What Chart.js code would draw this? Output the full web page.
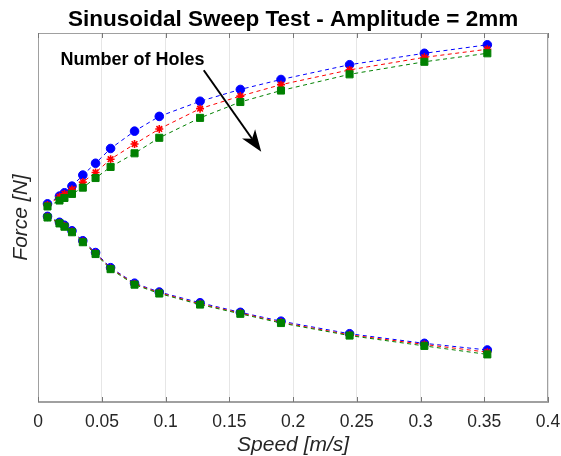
<!DOCTYPE html>
<html>
<head>
<meta charset="utf-8">
<script src="https://cdn.jsdelivr.net/npm/chart.js@4.4.1/dist/chart.umd.min.js"></script>
<style>
html,body{margin:0;padding:0;background:#fff;}
#c{display:block;}
</style>
</head>
<body>
<canvas id="c" width="561" height="456"></canvas>
<script>
// ---- data ----
const speed = [0.0073, 0.0167, 0.0206, 0.0265, 0.035, 0.045, 0.0568, 0.0756, 0.095, 0.127, 0.1586, 0.1905, 0.2443, 0.303, 0.3524];
const blueUpper  = [53.7, 55.8, 56.7, 58.5, 61.5, 64.7, 68.7, 73.4, 77.4, 81.5, 84.7, 87.4, 91.4, 94.5, 96.8];
const redUpper   = [53.4, 55.6, 56.4, 57.6, 59.6, 62.2, 65.8, 69.9, 74.0, 79.5, 82.9, 86.0, 90.0, 93.4, 95.6];
const greenUpper = [53.0, 54.6, 55.3, 56.4, 58.1, 60.7, 63.7, 67.4, 71.6, 77.0, 81.3, 84.4, 88.8, 92.2, 94.5];
const blueLower  = [50.3, 48.7, 47.9, 46.4, 43.7, 40.5, 36.4, 32.2, 29.8, 26.9, 24.3, 21.9, 18.5, 15.9, 14.1];
const redLower   = [50.2, 48.5, 47.7, 46.2, 43.5, 40.3, 36.2, 32.0, 29.6, 26.6, 24.1, 21.6, 18.2, 15.6, 13.5];
const greenLower = [50.0, 48.4, 47.5, 46.0, 43.3, 40.1, 36.0, 31.8, 29.4, 26.4, 23.9, 21.4, 18.0, 15.2, 12.9];
const xTickValues = [0, 0.05, 0.1, 0.15, 0.2, 0.25, 0.3, 0.35, 0.4];
const xTickLabels = ['0', '0.05', '0.1', '0.15', '0.2', '0.25', '0.3', '0.35', '0.4'];
const titleText = 'Sinusoidal Sweep Test - Amplitude = 2mm';
const xTitle = 'Speed [m/s]';
const yTitle = 'Force [N]';
const annoText = 'Number of Holes';
const annoTextPos = [0.074, 92.6];
const arrowFrom = [0.1299, 89.9];
const arrowTo = [0.175, 67.8];

function pts(ys){ return speed.map((x,i)=>({x:x, y:ys[i]})); }

function ds(label, ys, color, style, radius, order){
  return {
    label: label, data: pts(ys), showLine: true,
    borderColor: color, backgroundColor: color,
    borderWidth: 1, borderDash: [4,3.5],
    pointStyle: style, pointRadius: radius, pointHoverRadius: radius,
    pointBackgroundColor: color, pointBorderColor: color,
    pointBorderWidth: style === 'star' ? 1.6 : 1,
    order: order
  };
}

const BLUE = '#0000ff', RED = '#ff0000', GREEN = '#008000';
const FONT = '"Liberation Sans", Arial, sans-serif';

const framePlugin = {
  id: 'frame',
  afterDraw(chart){
    const {ctx, chartArea:a, scales:{x}} = chart;
    ctx.save();
    ctx.strokeStyle = '#a0a0a0';
    ctx.lineWidth = 1;
    ctx.strokeRect(Math.round(a.left)+0.5, Math.round(a.top)+0.5, Math.round(a.right-a.left)-1, Math.round(a.bottom-a.top)-1);
    ctx.strokeStyle = '#777';
    xTickValues.forEach(v=>{
      const px = Math.round(x.getPixelForValue(v))+0.5;
      ctx.beginPath();
      ctx.moveTo(px, a.bottom); ctx.lineTo(px, a.bottom-5);
      ctx.moveTo(px, a.top); ctx.lineTo(px, a.top+5);
      ctx.stroke();
    });
    ctx.restore();
  }
};

const annoPlugin = {
  id: 'anno',
  afterDatasetsDraw(chart){
    const {ctx, scales:{x,y}} = chart;
    ctx.save();
    ctx.fillStyle = '#000';
    ctx.font = 'bold 18px ' + FONT;
    ctx.textAlign = 'center';
    ctx.textBaseline = 'middle';
    ctx.fillText(annoText, x.getPixelForValue(annoTextPos[0]), y.getPixelForValue(annoTextPos[1]));
    const x1 = x.getPixelForValue(arrowFrom[0]), y1 = y.getPixelForValue(arrowFrom[1]);
    const x2 = x.getPixelForValue(arrowTo[0]), y2 = y.getPixelForValue(arrowTo[1]);
    const ang = Math.atan2(y2-y1, x2-x1);
    const L = 22, W = 8, back = 16;
    ctx.strokeStyle = '#000';
    ctx.lineWidth = 2;
    ctx.beginPath();
    ctx.moveTo(x1,y1);
    ctx.lineTo(x2 - Math.cos(ang)*back, y2 - Math.sin(ang)*back);
    ctx.stroke();
    const bx = x2 - Math.cos(ang)*L, by = y2 - Math.sin(ang)*L;
    const nx = -Math.sin(ang), ny = Math.cos(ang);
    ctx.beginPath();
    ctx.moveTo(x2,y2);
    ctx.lineTo(bx + nx*W, by + ny*W);
    ctx.lineTo(x2 - Math.cos(ang)*back, y2 - Math.sin(ang)*back);
    ctx.lineTo(bx - nx*W, by - ny*W);
    ctx.closePath();
    ctx.fill();
    ctx.restore();
  }
};

new Chart(document.getElementById('c'), {
  type: 'scatter',
  data: {
    datasets: [
      ds('Blue upper', blueUpper, BLUE, 'circle', 4.3, 3),
      ds('Blue lower', blueLower, BLUE, 'circle', 4.3, 3),
      ds('Red upper', redUpper, RED, 'star', 4, 2),
      ds('Red lower', redLower, RED, 'star', 4, 2),
      ds('Green upper', greenUpper, GREEN, 'rect', 5, 1),
      ds('Green lower', greenLower, GREEN, 'rect', 5, 1)
    ]
  },
  options: {
    responsive: false,
    animation: false,
    layout: { padding: { left: 9, right: 13, top: 0, bottom: 0 } },
    plugins: {
      legend: { display: false },
      tooltip: { enabled: false },
      title: {
        display: true, text: titleText, color: '#000', fullSize: false,
        font: { family: FONT, size: 22.5, weight: 'bold' },
        padding: { top: 6, bottom: 0 }
      }
    },
    scales: {
      x: {
        type: 'linear', min: 0, max: 0.4,
        afterBuildTicks(scale){ scale.ticks = xTickValues.map(v=>({value:v})); },
        afterFit(scale){ scale.paddingRight = 0; scale.paddingLeft = 0; },
        ticks: {
          color: '#262626', padding: 10,
          font: { family: FONT, size: 17.5 },
          callback: (v)=>{ const i = xTickValues.findIndex(t=>Math.abs(t-v)<1e-9); return i>=0 ? xTickLabels[i] : ''; },
          maxRotation: 0
        },
        grid: { color: '#e6e6e6', drawTicks: false },
        border: { display: true, color: '#a0a0a0' },
        title: {
          display: true, text: xTitle, color: '#262626',
          font: { family: FONT, size: 21, style: 'italic', lineHeight: 1.0 },
          padding: { top: -8, bottom: 0 }
        }
      },
      y: {
        type: 'linear', min: 0, max: 100,
        ticks: { display: false },
        grid: { display: false, drawTicks: false },
        border: { display: true, color: '#a0a0a0' },
        title: {
          display: true, text: yTitle, color: '#262626',
          font: { family: FONT, size: 21, style: 'italic' },
          padding: { top: 0, bottom: 4 }
        }
      }
    }
  },
  plugins: [framePlugin, annoPlugin]
});
</script>
</body>
</html>
